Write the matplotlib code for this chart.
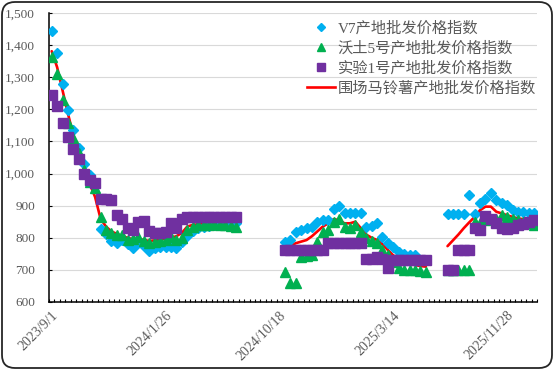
import numpy as np
import matplotlib
matplotlib.use("Agg")
import matplotlib.pyplot as plt
from matplotlib.lines import Line2D
from matplotlib.patches import FancyBboxPatch
from matplotlib.transforms import IdentityTransform
from matplotlib.font_manager import FontProperties

N = None
# ---------------- data (weekly category axis, 90 categories) ----------------
x_labels = ["2023/9/1", "2024/1/26", "2024/10/18", "2025/3/14", "2025/11/28"]
label_every = 21
n_categories = 90

series_names = ["V7产地批发价格指数", "沃土5号产地批发价格指数",
                "实验1号产地批发价格指数", "围场马铃薯产地批发价格指数"]

v7 = [1443, 1375, 1280, 1197, 1137, 1079, 1030, 995, 960, 826,
      812, 790, 783, 793, 780, 767, 783, 775, 760, 767,
      770, 772, 772, 767, 788, 805, 820, 830, 835, 838,
      840, 842, 842, 845, 845, N, N, N, N, N,
      N, N, N, 788, 793, 819, 824, 829, 834, 850,
      855, 855, 891, 898, 876, 876, 876, 878, 834, 838,
      845, 803, 783, 770, 757, 750, 746, 746, N, N,
      N, N, N, 873, 873, 873, 873, 933, 873, 907,
      922, 938, 917, 907, 902, 886, 881, 881, 876, 876]

wotu5 = [1364, 1310, 1230, 1156, 1110, 1065, 1010, 975, 955, 865,
         824, 814, 808, 808, 793, 795, 803, 790, 783, 788,
         791, 793, 803, 793, 800, 824, 834, 840, 840, 840,
         842, 840, 840, 836, 834, N, N, N, N, N,
         N, N, N, 693, 660, 658, 740, 742, 745, 788,
         819, 824, 850, 860, 834, 829, 840, 819, 800, 790,
         783, 762, 746, 725, 705, 700, 700, 700, 698, 694,
         N, N, N, 700, 700, 700, 700, 700, 850, 845,
         855, 860, 860, 870, 865, 860, 855, 850, 845, 840]

shiyan1 = [1246, 1209, 1157, 1114, 1076, 1045, 998, 981, 971, 921,
           921, 917, 871, 859, 832, 824, 850, 852, 820, 815,
           815, 818, 845, 830, 860, 866, 866, 866, 866, 866,
           866, 866, 866, 866, 866, N, N, N, N, N,
           N, N, N, 762, 762, 762, 762, 762, 762, 762,
           762, 785, 785, 785, 785, 785, 785, 785, 735, 735,
           740, 735, 706, 730, 730, 731, 731, 731, 731, 731,
           N, N, N, 700, 700, 762, 762, 762, 829, 824,
           868, 858, 845, 830, 828, 830, 840, 842, 850, 856]

weichang = [1381, 1331, 1259, 1186, 1119, 1062, 1010, 969, 927, 860,
            835, 820, 812, 805, 800, 795, 797, 793, 790, 792,
            795, 798, 800, 805, 815, 835, 840, 842, 845, 845,
            848, 848, 850, 850, 850, N, N, N, N, N,
            N, N, N, N, 775, 783, 788, 793, 805, 820,
            835, 845, 858, 855, 845, 845, 850, 830, 810, 800,
            793, 780, 762, 745, 735, 725, 720, 715, 712, 710,
            N, N, N, 774, 792, 810, 830, 848, 865, 886,
            897, 897, 881, 876, 870, 865, 860, 858, 858, 860]


def arr(v):
    return np.array([np.nan if a is None else a for a in v], dtype=float)


W, H = 554, 370
fig = plt.figure(figsize=(W / 100, H / 100), dpi=100)
ax = fig.add_axes([49 / W, 1 - 302 / H, (537 - 49) / W, (302 - 13) / H])

x = np.arange(n_categories)
gray = "#595959"

ax.plot(x, arr(weichang), color="#FF0000", lw=1.9, zorder=2, solid_capstyle="round")
ax.plot(x, arr(v7), ls="none", marker="D", ms=4.8, color="#00B0F0", mec="#00B0F0", zorder=3)
ax.plot(x, arr(wotu5), ls="none", marker="^", ms=6.6, color="#00B050", mec="#00B050", zorder=4)
ax.plot(x, arr(shiyan1), ls="none", marker="s", ms=7.6, color="#7030A0", mec="#7030A0", zorder=5)

ax.set_ylim(600, 1500)
ax.set_xlim(-0.5, n_categories - 0.5)
ax.set_yticks(np.arange(600, 1501, 100))
ax.yaxis.set_major_formatter(matplotlib.ticker.FuncFormatter(lambda v, p: f"{int(v):,}"))
ax.grid(axis="y", color="#D9D9D9", lw=0.8, zorder=0)
ax.set_axisbelow(True)

ax.set_xticks(np.arange(0, n_categories, label_every)[:len(x_labels)])
ax.set_xticklabels(x_labels, rotation=45, ha="right", va="top", rotation_mode="anchor")
ax.set_xticks(np.arange(-0.5, n_categories, 1), minor=True)
ax.tick_params(axis="x", which="major", length=0, pad=5, labelsize=10, labelcolor=gray)
ax.tick_params(axis="x", which="minor", direction="in", length=2.5, width=0.8, color="black")
ax.tick_params(axis="y", which="major", direction="in", length=2.5, width=0.8, pad=10,
               labelsize=9.5, labelcolor=gray)
for lab in ax.get_xticklabels() + ax.get_yticklabels():
    lab.set_family(["Liberation Serif"])

for s in ["top", "right"]:
    ax.spines[s].set_visible(False)
for s in ["left", "bottom"]:
    ax.spines[s].set_color("black")
    ax.spines[s].set_linewidth(1.1)

handles = [
    Line2D([], [], ls="none", marker="D", ms=4.2, color="#00B0F0"),
    Line2D([], [], ls="none", marker="^", ms=5.8, color="#00B050"),
    Line2D([], [], ls="none", marker="s", ms=5.4, color="#7030A0"),
    Line2D([], [], color="#FF0000", lw=1.9),
]
leg = ax.legend(handles, series_names, loc="upper left",
                bbox_to_anchor=(307 / W, 1 - 21 / H), bbox_transform=fig.transFigure,
                frameon=False, prop=FontProperties(family=["Liberation Serif", "Noto Sans CJK SC"], size=11),
                labelcolor=gray, handlelength=1.8, handletextpad=0.2, labelspacing=0.36,
                borderpad=0, borderaxespad=0)
leg.set_zorder(10)

border = FancyBboxPatch((2, 2), W - 4, H - 4, boxstyle="round,pad=0,rounding_size=13",
                        transform=IdentityTransform(), fill=False, ec="#262626", lw=1.3)
fig.add_artist(border)

fig.savefig("out.png", dpi=100)
